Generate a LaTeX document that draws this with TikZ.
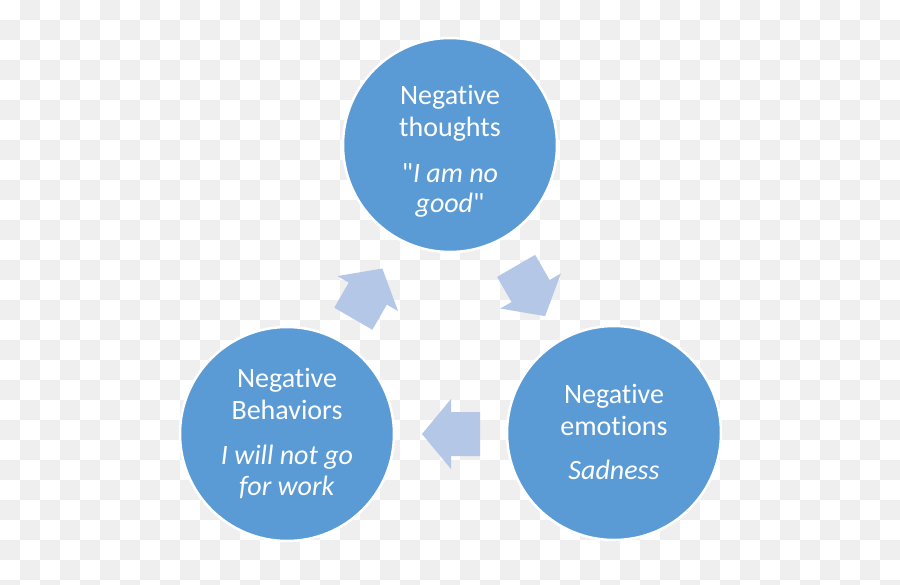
\documentclass[tikz,border=0pt]{standalone}
\usepackage{fontspec}
\newfontfamily\calibri{Carlito}[Ligatures={NoCommon}]
\definecolor{circblue}{RGB}{91,155,213}
\definecolor{arrblue}{RGB}{180,199,231}
\definecolor{checker}{RGB}{239,239,239}
\begin{document}
\begin{tikzpicture}[x=1pt,y=-1pt,
  circ/.style={circle, fill=circblue, draw=white, line width=2.5pt, minimum size=214pt, inner sep=0pt},
  lbl/.style={text=white, font=\calibri\fontsize{28}{32}\selectfont, anchor=base, inner sep=0pt},
  blockarrow/.style={fill=arrblue}]
\useasboundingbox (0,0) rectangle (900,584);
% checkerboard background
\begin{scope}
\clip (0,0) rectangle (900,584);
\fill[white] (0,0) rectangle (900,584);
\foreach \i in {0,...,44}{\foreach \j in {0,...,29}{%
  \ifodd\numexpr\i+\j\relax \fill[checker] (\i*20,\j*20) rectangle ++(20,20);\fi}}
\end{scope}
% circles
\node[circ] (top) at (450,145) {};
\node[circ] (bl) at (287,434) {};
\node[circ] (br) at (614,433) {};
% texts
\node[lbl] (t1) at (450,104) {Negative};
\node[lbl] (t2) at (450,136) {thoughts};
\node[lbl] (t3) at (450,182) {"\textit{I am no}};
\node[lbl] (t4) at (450,212) {\textit{good}"};
\node[lbl] (b1) at (287,387) {Negative};
\node[lbl] (b2) at (287,419) {Behaviors};
\node[lbl] (b3) at (287,464) {\textit{I will not go}};
\node[lbl] (b4) at (287,495) {\textit{for work}};
\node[lbl] (r1) at (614,403) {Negative};
\node[lbl] (r2) at (614,435) {emotions};
\node[lbl] (r3) at (614,479) {\textit{Sadness}};
% block arrows
\foreach \cx/\cy/\ang in {367.8/293.6/60, 530.6/291/-60, 451/434/180}{
  \begin{scope}[shift={(\cx,\cy)}, rotate=\ang]
    \fill[blockarrow] (-29,-22) -- (0,-22) -- (0,-35) -- (29,0) -- (0,35) -- (0,22) -- (-29,22) -- cycle;
  \end{scope}}
\end{tikzpicture}
\end{document}
